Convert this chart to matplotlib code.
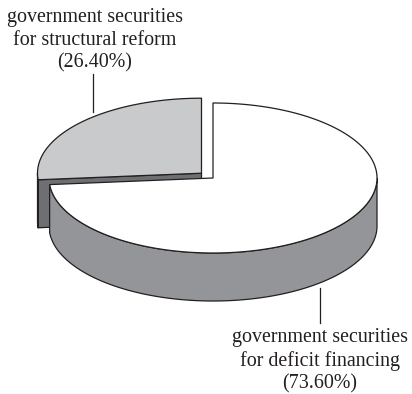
import numpy as np
import matplotlib.pyplot as plt
from matplotlib.patches import Polygon

labels = ["government securities\nfor structural reform\n(26.40%)",
          "government securities\nfor deficit financing\n(73.60%)"]
shares = [26.40, 73.60]
explode = [0.095, 0.0]
top_colors = ['#c9cacc', '#ffffff']
side_colors = ['#6e6f73', '#949599']

# pie geometry in pixel units
cx, cy = 213, 178
rx, ry = 164, 75
depth = 48
edge = '#231f20'
lw = 0.9


def pt(x0, y0, t, dz=0):
    return x0 + rx * np.cos(t), y0 - ry * np.sin(t) + dz


def draw_slice(ax, t0, t1, ex, top_c, side_c):
    tm = (t0 + t1) / 2
    x0 = cx + ex * rx * np.cos(tm)
    y0 = cy - ex * ry * np.sin(tm)
    kw = dict(closed=True, edgecolor=edge, linewidth=lw, joinstyle='round')
    # radial faces facing the viewer
    for t, ny in ((t0, -np.cos(t0)), (t1, np.cos(t1))):
        if ny < -1e-6:
            xe, ye = pt(x0, y0, t)
            ax.add_patch(Polygon([(x0, y0), (xe, ye), (xe, ye + depth),
                                  (x0, y0 + depth)], facecolor=side_c, **kw))
    # outer side (front half only)
    ts = np.linspace(t0, t1, 600)
    front = np.sin(ts) <= 0
    runs = np.split(ts, np.where(np.diff(front.astype(int)) != 0)[0] + 1)
    for r in runs:
        if len(r) < 2 or np.sin(r[len(r) // 2]) > 0:
            continue
        xs, ys = pt(x0, y0, r)
        poly = list(zip(xs, ys)) + list(zip(xs[::-1], ys[::-1] + depth))
        ax.add_patch(Polygon(poly, facecolor=side_c, **kw))
    # top face
    xs, ys = pt(x0, y0, ts)
    ax.add_patch(Polygon([(x0, y0)] + list(zip(xs, ys)), facecolor=top_c, **kw))


fig = plt.figure(figsize=(4.12, 3.94), dpi=100)
ax = fig.add_axes([0, 0, 1, 1])
ax.set_xlim(0, 412)
ax.set_ylim(394, 0)
ax.axis('off')

angles = []
start = np.pi / 2
for s in shares:
    end = start + 2 * np.pi * s / 100
    angles.append((start, end))
    start = end

order = sorted(range(len(shares)), key=lambda i: -np.sin(sum(angles[i]) / 2))
for i in order:
    draw_slice(ax, angles[i][0], angles[i][1], explode[i], top_colors[i], side_colors[i])

font = dict(family='Liberation Serif', fontsize=14.4, color='#231f20',
            ha='center', linespacing=1.25)
ax.text(95, 8, labels[0], va='top', **font)
ax.plot([93, 93], [74, 112], color=edge, lw=0.9)
ax.text(320, 328, labels[1], va='top', **font)
ax.plot([320, 320], [288, 323], color=edge, lw=0.9)

fig.savefig('out.png', dpi=100)
